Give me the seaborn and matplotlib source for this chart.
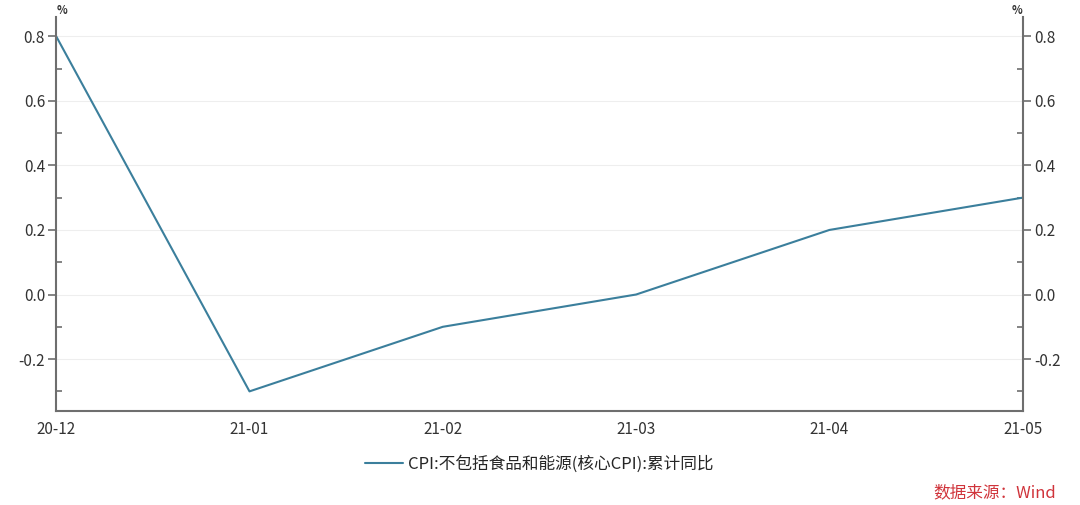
import pandas as pd
import seaborn as sns
import matplotlib.pyplot as plt
from matplotlib.ticker import MultipleLocator

# Data
months = ['20-12', '21-01', '21-02', '21-03', '21-04', '21-05']
core_cpi = [0.8, -0.3, -0.1, 0.0, 0.2, 0.3]
series_name = 'CPI:不包括食品和能源(核心CPI):累计同比'

df = pd.DataFrame({'pos': range(len(months)), 'value': core_cpi, 'series': series_name})

sns.set_style('white')
plt.rcParams['font.family'] = ['Noto Sans CJK SC', 'DejaVu Sans']
plt.rcParams['axes.unicode_minus'] = False

fig = plt.figure(figsize=(10.8, 5.05), dpi=100)
ax = fig.add_axes([0.052, 0.186, 0.895, 0.780])

line_color = '#3b7f9c'
sns.lineplot(data=df, x='pos', y='value', hue='series', palette=[line_color],
             linewidth=1.5, ax=ax)

ax.set_xlim(0, len(months) - 1)
ax.set_ylim(-0.361, 0.859)
ax.set_xticks(range(len(months)))
ax.set_xticklabels(months)
ax.xaxis.set_minor_locator(MultipleLocator(0.25))
ax.yaxis.set_major_locator(MultipleLocator(0.2))
ax.yaxis.set_minor_locator(MultipleLocator(0.1))
ax.set_xlabel('')
ax.set_ylabel('')

spine_color = '#6e6e6e'
for side in ['left', 'right', 'bottom']:
    ax.spines[side].set_color(spine_color)
    ax.spines[side].set_linewidth(1.5)
ax.spines['top'].set_visible(False)

ax.grid(axis='y', color='#eeeeee', linewidth=0.8)
ax.tick_params(axis='both', which='major', direction='out', length=6, width=1.2,
               color=spine_color, labelsize=11, labelcolor='#333333')
ax.tick_params(axis='y', which='minor', direction='in', length=4, width=1.2, color=spine_color)
ax.tick_params(axis='x', which='minor', direction='out', length=4, width=1.2, color=spine_color)
ax.tick_params(axis='y', which='both', left=True, right=True, labelright=True)
ax.tick_params(axis='x', which='major', pad=1)
ax.tick_params(axis='y', which='major', pad=2)

ax.set_yticklabels([f'{v:.1f}' for v in ax.get_yticks()])

ax.text(0.0, 1.0, '%', transform=ax.transAxes, fontsize=8, fontweight='bold',
        color='#333333', ha='left', va='bottom')
ax.text(1.0, 1.0, '%', transform=ax.transAxes, fontsize=8, fontweight='bold',
        color='#333333', ha='right', va='bottom')

ax.legend(loc='upper center', bbox_to_anchor=(0.5, -0.075), frameon=False,
          fontsize=12, handlelength=2.3, handletextpad=0.3)

fig.text(0.978, 0.008, '数据来源：Wind', color='#d0343b', fontsize=12,
         style='italic', ha='right', va='bottom')

fig.savefig('out.png', dpi=100)
